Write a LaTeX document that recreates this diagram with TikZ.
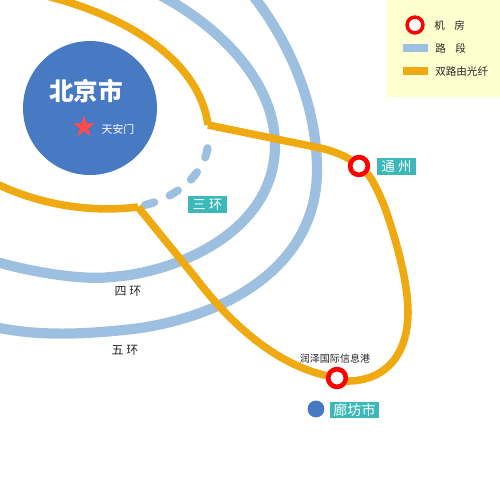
\documentclass[tikz,border=0pt]{standalone}
\usepackage{fontspec}
\setmainfont{Noto Sans CJK SC}
\usetikzlibrary{shapes.geometric}
\definecolor{ringblue}{RGB}{157,192,224}
\definecolor{fibregold}{RGB}{239,170,17}
\definecolor{citytag}{RGB}{60,184,184}
\definecolor{cityblue}{RGB}{72,122,196}
\definecolor{legendbg}{RGB}{255,255,208}
\tikzset{
  ring/.style={ringblue,line width=5.8pt},
  fibre/.style={fibregold,line width=4.3pt,line join=round},
  room/.style={circle,draw=red,fill=white,line width=2.6pt,minimum size=10pt,inner sep=0pt},
  tag/.style={fill=citytag,text=white,inner sep=0pt,minimum height=9.6pt,font=\fontsize{7.6}{8}\selectfont},
  note/.style={text=black!85,inner sep=0pt,font=\fontsize{6.8}{8}\selectfont}
}
\begin{document}
\begin{tikzpicture}[x=0.02cm,y=-0.02cm,line join=round]
    \useasboundingbox (0,0) rectangle (500,495);
    \clip (0,0) rectangle (500,495);
    % rings
    \draw[ring] (-10,260) .. controls (40,275) and (90,280) .. (110,277) .. controls (170,274) and (275,235) .. (275,145) .. controls (275,85) and (225,30) .. (160,-5);
    \draw[ring] (-10,326) .. controls (30,335) and (70,336) .. (133,329) .. controls (220,318) and (317,270) .. (317,170) .. controls (317,100) and (285,35) .. (250,-8);
    \draw[ring,line width=4.6pt,line cap=round,dash pattern=on 5.5pt off 9.6pt] (145,205) .. controls (175,198) and (205,175) .. (208,145);
    % beijing
    \node[circle,fill=cityblue,minimum size=2.68cm,inner sep=0pt] (beijing) at (90,108) {};
    \node[text=white,inner sep=0pt,font=\fontsize{14}{16}\bfseries\selectfont] (bjname) at (86,91) {北京市};
    \node[star,star points=5,star point ratio=2.6,fill=red!70!white,inner sep=0pt,minimum size=13pt] (tiananmen) at (84,127) {};
    \node[text=white,inner sep=0pt,font=\fontsize{6.2}{8}\selectfont] (tamname) at (118,129) {天安门};
    % stations
    \node[room] (tongzhou) at (359,166) {};
    \node[room] (runze) at (337,378) {};
    \coordinate (turnA) at (208,125);
    \coordinate (turnB) at (138,207);
    % fibre
    \draw[fibre] (turnA) .. controls (200,65) and (135,15) .. (30,-8);
    \draw[fibre] (turnB) .. controls (90,213) and (35,205) .. (-15,178);
    \draw[fibre] (turnA) -- (320,148) .. controls (335,151) and (348,158) .. (tongzhou);
    \draw[fibre] (tongzhou) .. controls (372,178) and (380,195) .. (385,208) .. controls (398,245) and (408,285) .. (408,312) .. controls (408,355) and (385,382) .. (345,381) -- (runze);
    \draw[fibre] (turnB) -- (195,277) .. controls (235,330) and (280,365) .. (runze);
    \node[room] at (tongzhou) {};
    \node[room] at (runze) {};
    % labels
    \node[tag,minimum width=22pt] (tongzhoutag) at (396.5,166.5) {通 州};
    \node[tag,minimum width=22pt] (sanhuan) at (207.5,204.5) {三 环};
    \node[tag,minimum width=28pt,font=\fontsize{8}{9}\selectfont] (langfangtag) at (354.5,410) {廊坊市};
    \node[circle,fill=cityblue,minimum size=9.6pt,inner sep=0pt] (langfang) at (316,409) {};
    \node[note] (sihuan) at (128,291) {四 环};
    \node[note] (wuhuan) at (125,350) {五 环};
    \node[note,font=\fontsize{5.7}{7}\selectfont] (runzename) at (335,359) {润泽国际信息港};
    % legend
    \fill[legendbg] (387,0) rectangle (500,97);
    \node[room,line width=2pt,minimum size=9pt] (keyroom) at (415,25) {};
    \fill[ringblue] (403,44) rectangle (428,52);
    \fill[fibregold] (403,67) rectangle (428,75);
    \node[note,anchor=west,font=\fontsize{6}{8}\selectfont] (keyone) at (434,25) {机\ \ \ \ 房};
    \node[note,anchor=west,font=\fontsize{6}{8}\selectfont] (keytwo) at (435,48) {路\ \ \ \ 段};
    \node[note,anchor=west,font=\fontsize{6}{8}\selectfont] (keythree) at (435,71) {双路由光纤};
\end{tikzpicture}
\end{document}
